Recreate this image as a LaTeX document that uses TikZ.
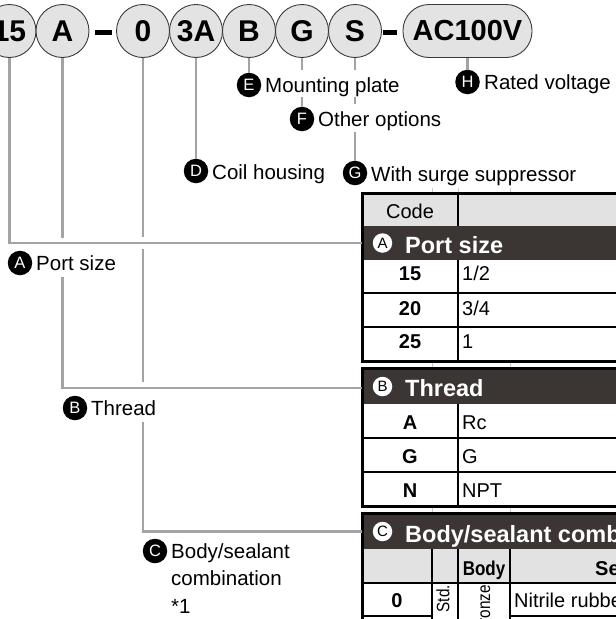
\documentclass[tikz,border=0pt]{standalone}
\usepackage{fontspec}
\setmainfont{Liberation Sans}
\usepackage{graphicx}
\definecolor{conngray}{HTML}{A3A3A3}
\definecolor{circfill}{HTML}{E3E3E3}
\definecolor{circdraw}{HTML}{3A3A3A}
\definecolor{hdrdark}{HTML}{3B3634}
\definecolor{cellgray}{HTML}{E2E2E2}
\definecolor{faintline}{HTML}{C8C8C8}
\tikzset{
  conn/.style={draw=conngray, line width=2.2pt},
  topc/.style={circle, draw=circdraw, fill=circfill, line width=0.9pt, minimum size=53pt, inner sep=0pt, font=\fontsize{30}{30}\selectfont\bfseries},
  pillnode/.style={rectangle, rounded corners=26pt, draw=circdraw, fill=circfill, line width=0.9pt, minimum width=129pt, minimum height=53pt, inner sep=0pt, font=\fontsize{29}{29}\selectfont\bfseries},
  dashbar/.style={fill=black, inner sep=0pt, minimum height=5pt},
  badge/.style={circle, fill=black, text=white, minimum size=24.5pt, inner sep=0pt, font=\fontsize{16.5}{16.5}\selectfont},
  lbl/.style={inner sep=0pt, font=\fontsize{20.5}{24}\selectfont, anchor=base west},
  hbadge/.style={circle, fill=white, text=black, minimum size=19.5pt, inner sep=0pt, font=\fontsize{15}{15}\selectfont},
  hdr/.style={inner sep=0pt, text=white, font=\fontsize{23.5}{24}\selectfont\bfseries, anchor=base west},
  codecell/.style={inner sep=0pt, font=\fontsize{20}{24}\selectfont\bfseries, anchor=base},
  valcell/.style={inner sep=0pt, font=\fontsize{20}{24}\selectfont, anchor=base west},
  rotcell/.style={inner sep=0pt, rotate=90, anchor=east, font=\fontsize{18}{18}\selectfont},
  tborder/.style={draw=black, line width=3pt},
  tline/.style={draw=black, line width=1.2pt},
  faint/.style={draw=faintline, line width=0.8pt},
}
\begin{document}
\begin{tikzpicture}[x=1pt,y=-1pt]
\useasboundingbox (0,0) rectangle (616,619);
\clip (0,0) rectangle (616,619);
\fill[white] (0,0) rectangle (616,619);

% ---------------- table ----------------
% section A
\fill[cellgray] (362,193) rectangle (700,226);
\fill[hdrdark] (362,226) rectangle (700,260);
\draw[tline] (362,293) -- (700,293);
\draw[tline] (362,327) -- (700,327);
\draw[tline] (458,193) -- (458,226);
\draw[tline] (458,260) -- (458,361);
\draw[tborder] (700,193) -- (362,193) -- (362,361) -- (700,361);
% section B
\fill[hdrdark] (362,368) rectangle (700,404);
\draw[tline] (362,438) -- (700,438);
\draw[tline] (362,472) -- (700,472);
\draw[tline] (458,404) -- (458,506);
\draw[tborder] (700,368) -- (362,368) -- (362,506) -- (700,506);
% section C
\fill[hdrdark] (362,513) rectangle (700,549);
\fill[cellgray] (362,549) rectangle (700,583);
\draw[tline] (362,583) -- (700,583);
\draw[tline] (432,549) -- (432,630);
\draw[tline] (458,549) -- (458,630);
\draw[tline] (510,549) -- (510,630);
\draw[tline] (362,616) -- (432,616);
\draw[tline] (510,616) -- (700,616);
\draw[tborder] (700,513) -- (362,513) -- (362,630);
% faint residual grid lines in the gaps
\foreach \gx in {432,458,510} \draw[faint] (\gx,188) -- (\gx,192);
\foreach \gx in {432,510} {
  \draw[faint] (\gx,362.5) -- (\gx,366.5);
  \draw[faint] (\gx,507.5) -- (\gx,511.5);
}

% table texts
\node[valcell, anchor=base] (tcode) at (410,218) {Code};
\node[hbadge] (hbA) at (382.5,243) {A};
\node[hdr] (hA) at (405,253) {Port size};
\node[codecell] (r15) at (410,280.5) {15};
\node[valcell] (v15) at (462,280.5) {1/2};
\node[codecell] (r20) at (410,315) {20};
\node[valcell] (v20) at (462,315) {3/4};
\node[codecell] (r25) at (410,348.5) {25};
\node[valcell] (v25) at (462,348.5) {1};

\node[hbadge] (hbB) at (382.5,386.5) {B};
\node[hdr] (hB) at (405,396) {Thread};
\node[codecell] (rA) at (410,429) {A};
\node[valcell] (vA) at (462,429) {Rc};
\node[codecell] (rG) at (410,463) {G};
\node[valcell] (vG) at (462,463) {G};
\node[codecell] (rN) at (410,497) {N};
\node[valcell] (vN) at (462,497) {NPT};

\node[hbadge] (hbC) at (382.5,531.5) {C};
\node[hdr] (hC) at (405,542) {Body/sealant combination};
\node[codecell] (sBody) at (484,575) {\scalebox{0.85}[1]{Body}};
\node[codecell, anchor=base west] (sSeal) at (595,575) {Sealant};
\node[codecell] (r0) at (397,607) {0};
\node[rotcell] (std) at (443,585) {\scalebox{0.85}[1]{Std.}};
\node[rotcell] (bronze) at (484,585) {\scalebox{0.85}[1]{Bronze}};
\node[valcell] (nitr) at (514,607.5) {Nitrile rubber};

\coordinate (tabA) at (362,243);
\coordinate (tabB) at (362,388);
\coordinate (tabC) at (362,531.5);

% ---------------- top code circles ----------------
\node[topc] (c15) at (9.5,31) {15};
\node[topc] (cA) at (62.5,31) {A};
\node[dashbar, minimum width=17pt] (d1) at (103.5,32) {};
\node[topc] (c0) at (143,31) {0};
\node[topc] (c3A) at (196,31) {3A};
\node[topc] (cB) at (249,31) {B};
\node[topc] (cG) at (302,31) {G};
\node[topc] (cS) at (355,31) {S};
\node[dashbar, minimum width=14pt] (d2) at (390,32) {};
\node[pillnode] (cV) at (467.5,31) {AC100V};

% ---------------- badges and labels ----------------
\node[badge] (bE) at (249,85) {E};
\node[lbl] (tE) at (265,92) {Mounting plate};
\node[badge] (bF) at (302,119) {F};
\node[lbl] (tF) at (318,126.5) {Other options};
\node[badge] (bD) at (196,171) {D};
\node[lbl] (tD) at (212,179) {Coil housing};
\node[badge] (bG) at (355,173) {G};
\node[lbl] (tG) at (371,181) {With surge suppressor};
\node[badge] (bH) at (467.5,82) {H};
\node[lbl] (tH) at (484,89.5) {Rated voltage};
\node[badge] (bA) at (20,263) {A};
\node[lbl] (tA) at (36,270) {Port size};
\node[badge] (bB) at (75,408) {B};
\node[lbl] (tB) at (91,415) {Thread};
\node[badge] (bC) at (155,551) {C};
\node[lbl] (tC1) at (171,558) {Body/sealant};
\node[lbl] (tC2) at (171,585.5) {combination};
\node[lbl] (tC3) at (171,613) {*1};

% ---------------- connectors ----------------
\draw[conn] (c15.south) |- (tabA);
\draw[conn] (cA.south) -- (62.5,238);
\draw[conn] (62.5,277) |- (tabB);
\draw[conn] (c0.south) -- (143,237);
\draw[conn] (143,249) -- (143,382);
\draw[conn] (143,422) |- (tabC);
\draw[conn] (c3A.south) -- (bD.north);
\draw[conn] (cB.south) -- (bE.north);
\draw[conn] (cG.south) -- (302,70);
\draw[conn] (302,97) -- (bF.north);
\draw[conn] (cS.south) -- (355,70);
\draw[conn] (355,97) -- (355,104);
\draw[conn] (355,132) -- (bG.north);
\draw[conn] (cV.south) -- (bH.north);
\end{tikzpicture}
\end{document}
